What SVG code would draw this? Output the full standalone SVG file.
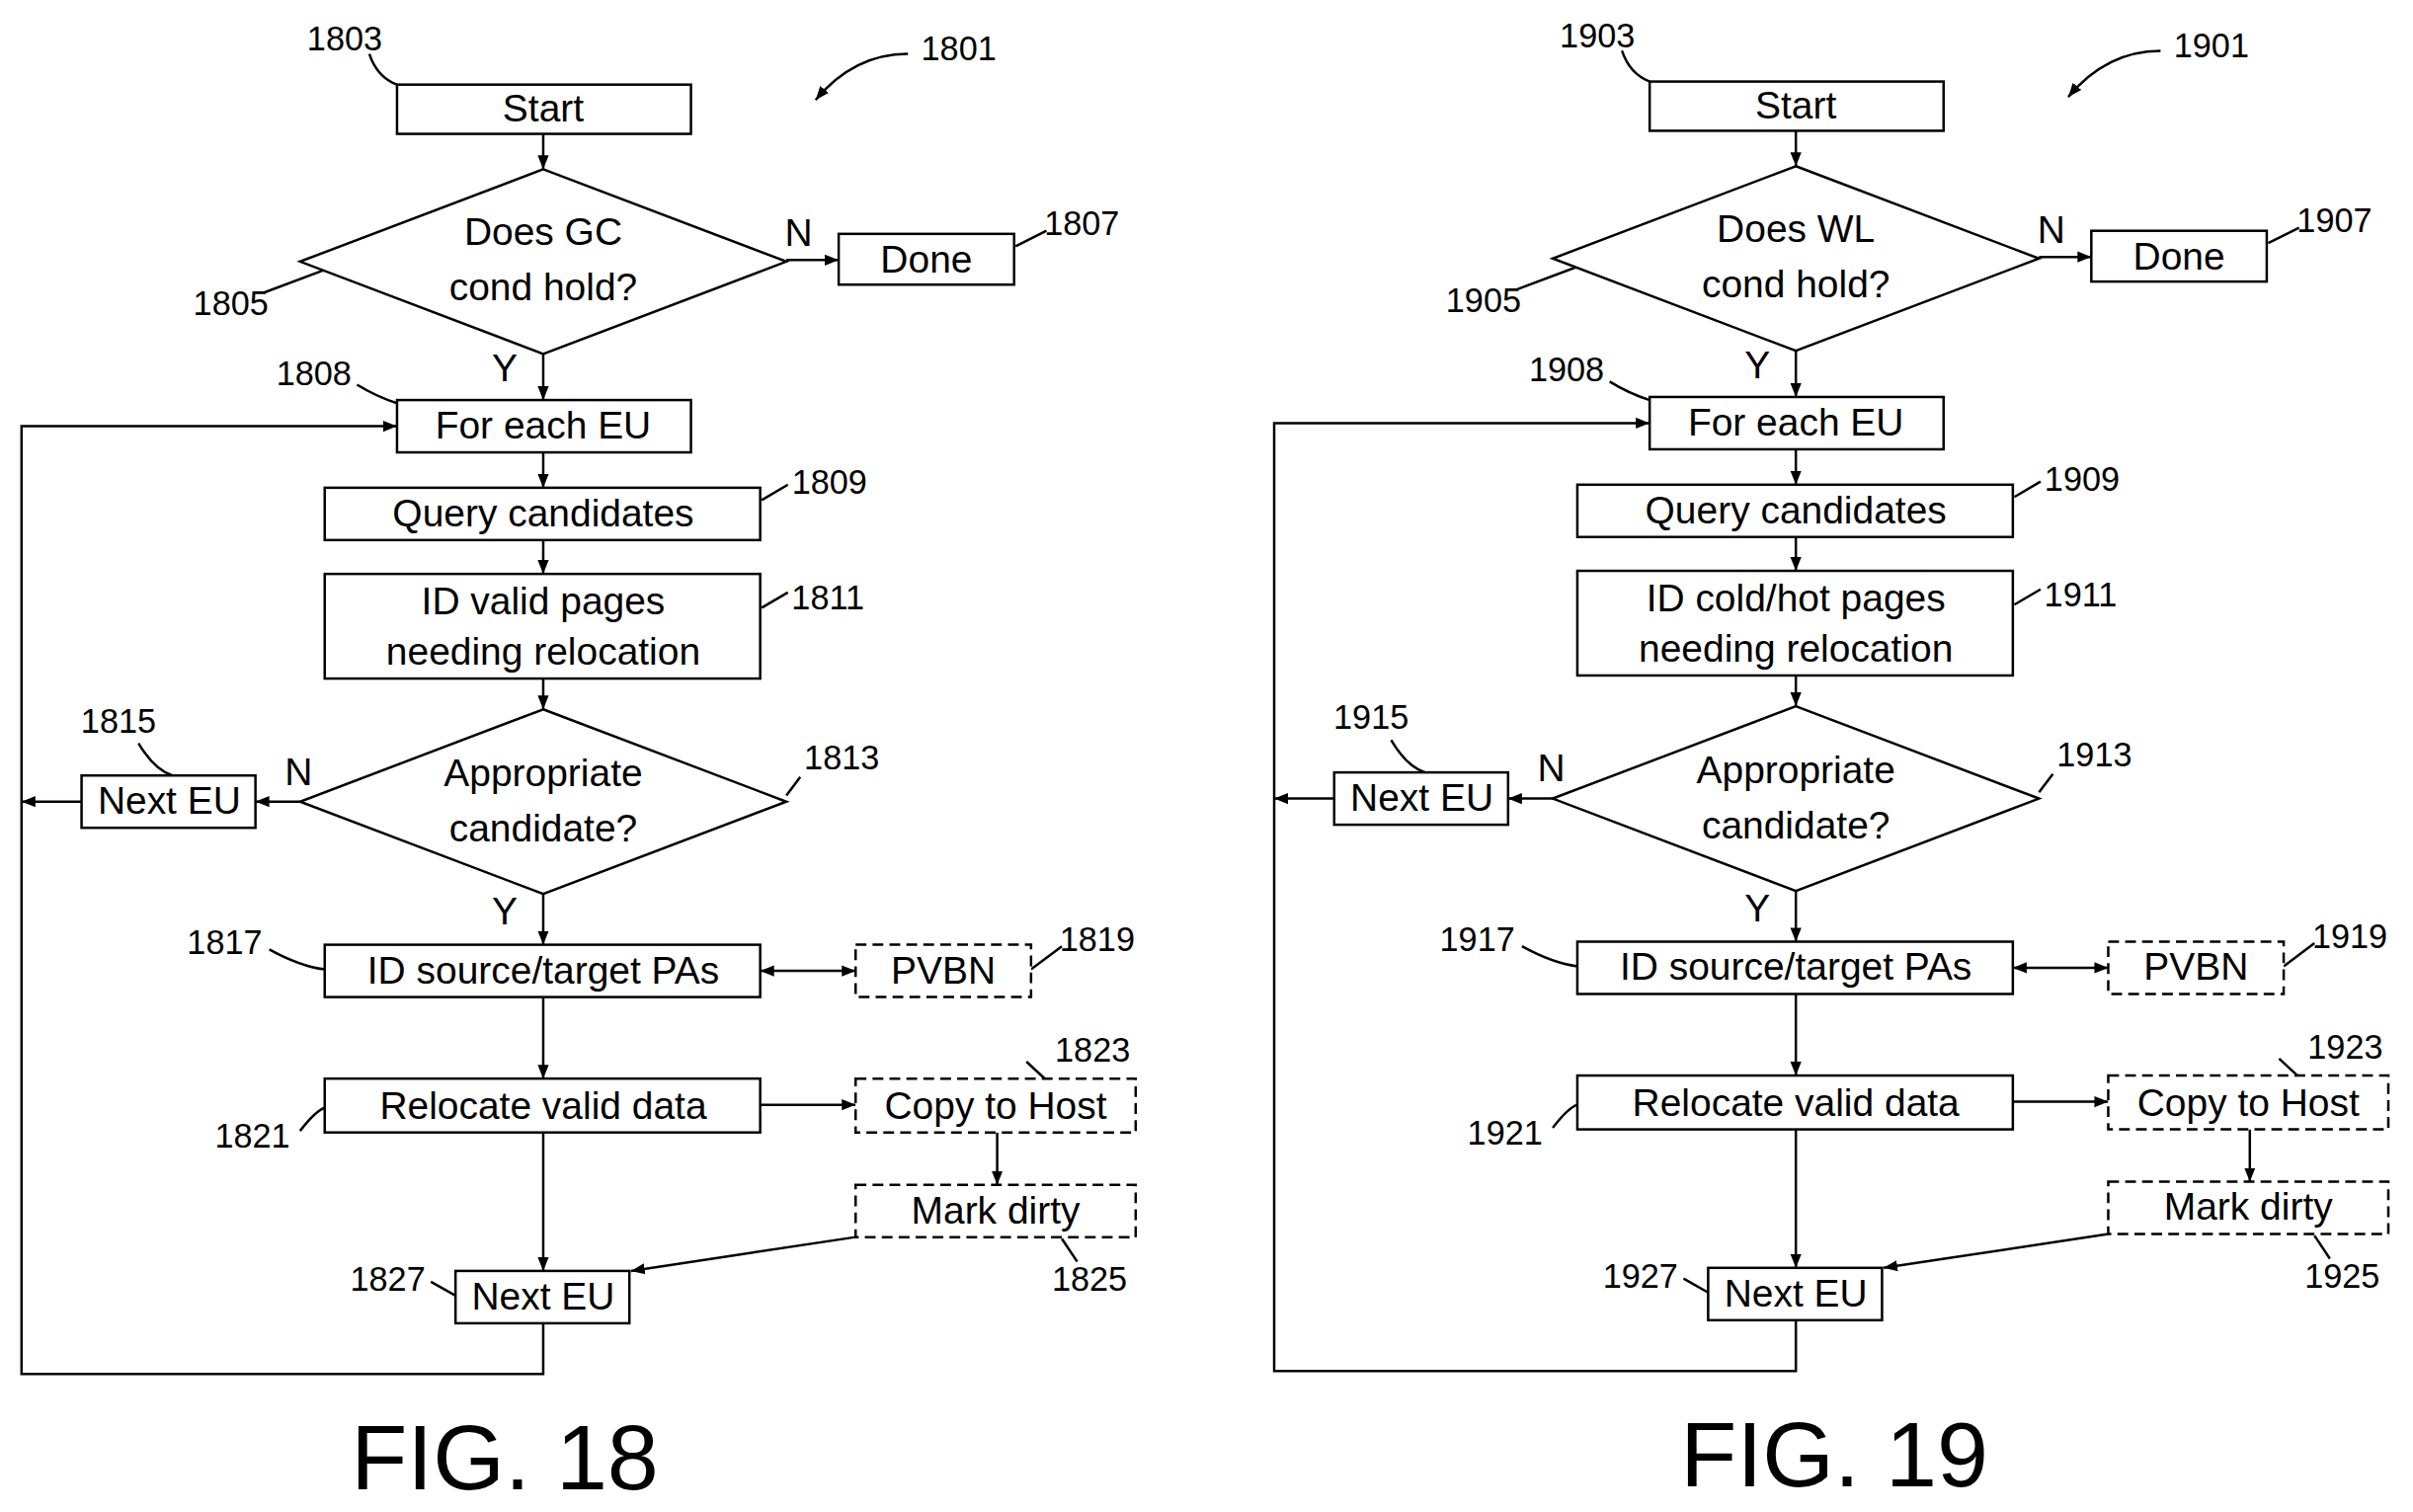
<svg xmlns="http://www.w3.org/2000/svg" width="2443" height="1531" viewBox="0 0 2443 1531">
<style>
.b{fill:#fff;stroke:#000;stroke-width:1.6}
.d{fill:#fff;stroke:#000;stroke-width:1.6;stroke-dasharray:7 4}
.t{font-family:"Liberation Sans",Arial,sans-serif;font-size:25px;text-anchor:middle;fill:#000}
.n{font-family:"Liberation Sans",Arial,sans-serif;font-size:22px;text-anchor:middle;fill:#000}
.f{font-family:"Liberation Sans",Arial,sans-serif;font-size:60px;text-anchor:middle;fill:#000}
.c{fill:none;stroke:#000;stroke-width:1.6}
.a{fill:none;stroke:#000;stroke-width:1.6;marker-end:url(#ah)}
</style>
<defs>
<marker id="ah" viewBox="0 0 10 10" refX="10" refY="5" markerWidth="9" markerHeight="9" markerUnits="userSpaceOnUse" orient="auto"><path d="M0,1 L10,5 L0,9 z" fill="#000"/></marker>
<marker id="as" viewBox="0 0 10 10" refX="0" refY="5" markerWidth="9" markerHeight="9" markerUnits="userSpaceOnUse" orient="auto"><path d="M10,1 L0,5 L10,9 z" fill="#000"/></marker>
</defs>
<rect width="2443" height="1531" fill="#fff"/>
<g transform="scale(1.558)">
<g id="fig18">
<g id="connectors18">
<path class="a" d="M353,87V110"/>
<path class="a" d="M511,169H545"/>
<path class="a" d="M353,230V260"/>
<path class="a" d="M353,294V317"/>
<path class="a" d="M353,351V373"/>
<path class="a" d="M353,441V461"/>
<path class="a" d="M195,521H166"/>
<path class="a" d="M53,521H14"/>
<path class="a" d="M353,581V614"/>
<path class="a" d="M494,631H556" style="marker-start:url(#as)"/>
<path class="a" d="M353,648V701"/>
<path class="a" d="M494,718H556"/>
<path class="a" d="M648,736V770"/>
<path class="a" d="M556,804L410,826"/>
<path class="a" d="M353,736V826"/>
<path class="a" d="M353,860V893H14V277H258"/>
<path class="c" d="M240,35Q245,50 258,55"/>
<path class="a" d="M590,35Q555,35 530,65"/>
<path class="c" d="M660,160L680,150"/>
<path class="c" d="M172,190L212,175"/>
<path class="c" d="M232,250Q245,258 258,262"/>
<path class="c" d="M495,325L512,315"/>
<path class="c" d="M495,395L512,385"/>
<path class="c" d="M511,517L520,505"/>
<path class="c" d="M90,483Q100,500 112,504"/>
<path class="c" d="M175,617Q195,628 211,630"/>
<path class="c" d="M670,630L690,615"/>
<path class="c" d="M195,735Q205,722 211,720"/>
<path class="c" d="M685,690L698,702" transform="translate(-18,0)"/>
<path class="c" d="M690,805L700,820"/>
<path class="c" d="M280,833L296,842"/>
</g>
<g id="n1803"><rect class="b" x="258" y="55" width="191" height="32"/><text class="t" x="353" y="79">Start</text></g>
<g id="n1805"><path class="b" d="M353,110L511,170L353,230L195,170z"/><text class="t" x="353" y="159">Does GC</text><text class="t" x="353" y="195">cond hold?</text></g>
<g id="n1807"><rect class="b" x="545" y="152" width="114" height="33"/><text class="t" x="602" y="177">Done</text></g>
<g id="n1808"><rect class="b" x="258" y="260" width="191" height="34"/><text class="t" x="353" y="285">For each EU</text></g>
<g id="n1809"><rect class="b" x="211" y="317" width="283" height="34"/><text class="t" x="353" y="342">Query candidates</text></g>
<g id="n1811"><rect class="b" x="211" y="373" width="283" height="68"/><text class="t" x="353" y="399">ID valid pages</text><text class="t" x="353" y="432">needing relocation</text></g>
<g id="n1813"><path class="b" d="M353,461L511,521L353,581L195,521z"/><text class="t" x="353" y="511">Appropriate</text><text class="t" x="353" y="547">candidate?</text></g>
<g id="n1815"><rect class="b" x="53" y="504" width="113" height="34"/><text class="t" x="110" y="529">Next EU</text></g>
<g id="n1817"><rect class="b" x="211" y="614" width="283" height="34"/><text class="t" x="353" y="639">ID source/target PAs</text></g>
<g id="n1819"><rect class="d" x="556" y="614" width="114" height="34"/><text class="t" x="613" y="639">PVBN</text></g>
<g id="n1821"><rect class="b" x="211" y="701" width="283" height="35"/><text class="t" x="353" y="727">Relocate valid data</text></g>
<g id="n1823"><rect class="d" x="556" y="701" width="182" height="35"/><text class="t" x="647" y="727">Copy to Host</text></g>
<g id="n1825"><rect class="d" x="556" y="770" width="182" height="34"/><text class="t" x="647" y="795">Mark dirty</text></g>
<g id="n1827"><rect class="b" x="296" y="826" width="113" height="34"/><text class="t" x="353" y="851">Next EU</text></g>
<g id="labels18">
<text class="n" x="224" y="33">1803</text><text class="n" x="623" y="39">1801</text>
<text class="n" x="703" y="153">1807</text><text class="n" x="150" y="205">1805</text>
<text class="t" x="519" y="160">N</text><text class="t" x="328" y="248">Y</text>
<text class="n" x="204" y="250">1808</text><text class="n" x="539" y="321">1809</text>
<text class="n" x="538" y="396">1811</text><text class="n" x="547" y="500">1813</text>
<text class="t" x="194" y="510">N</text><text class="n" x="77" y="476">1815</text>
<text class="t" x="328" y="601">Y</text><text class="n" x="146" y="620">1817</text>
<text class="n" x="713" y="618">1819</text><text class="n" x="164" y="746">1821</text>
<text class="n" x="710" y="690">1823</text><text class="n" x="708" y="839">1825</text>
<text class="n" x="252" y="839">1827</text>
<text class="f" x="328" y="968">FIG. 18</text>
</g>
</g>
<g id="fig19" transform="translate(814,-2)">
<g id="connectors19">
<path class="a" d="M353,87V110"/>
<path class="a" d="M511,169H545"/>
<path class="a" d="M353,230V260"/>
<path class="a" d="M353,294V317"/>
<path class="a" d="M353,351V373"/>
<path class="a" d="M353,441V461"/>
<path class="a" d="M195,521H166"/>
<path class="a" d="M53,521H14"/>
<path class="a" d="M353,581V614"/>
<path class="a" d="M494,631H556" style="marker-start:url(#as)"/>
<path class="a" d="M353,648V701"/>
<path class="a" d="M494,718H556"/>
<path class="a" d="M648,736V770"/>
<path class="a" d="M556,804L410,826"/>
<path class="a" d="M353,736V826"/>
<path class="a" d="M353,860V893H14V277H258"/>
<path class="c" d="M240,35Q245,50 258,55"/>
<path class="a" d="M590,35Q555,35 530,65"/>
<path class="c" d="M660,160L680,150"/>
<path class="c" d="M172,190L212,175"/>
<path class="c" d="M232,250Q245,258 258,262"/>
<path class="c" d="M495,325L512,315"/>
<path class="c" d="M495,395L512,385"/>
<path class="c" d="M511,517L520,505"/>
<path class="c" d="M90,483Q100,500 112,504"/>
<path class="c" d="M175,617Q195,628 211,630"/>
<path class="c" d="M670,630L690,615"/>
<path class="c" d="M195,735Q205,722 211,720"/>
<path class="c" d="M667,690L680,702"/>
<path class="c" d="M690,805L700,820"/>
<path class="c" d="M280,833L296,842"/>
</g>
<g id="n1903"><rect class="b" x="258" y="55" width="191" height="32"/><text class="t" x="353" y="79">Start</text></g>
<g id="n1905"><path class="b" d="M353,110L511,170L353,230L195,170z"/><text class="t" x="353" y="159">Does WL</text><text class="t" x="353" y="195">cond hold?</text></g>
<g id="n1907"><rect class="b" x="545" y="152" width="114" height="33"/><text class="t" x="602" y="177">Done</text></g>
<g id="n1908"><rect class="b" x="258" y="260" width="191" height="34"/><text class="t" x="353" y="285">For each EU</text></g>
<g id="n1909"><rect class="b" x="211" y="317" width="283" height="34"/><text class="t" x="353" y="342">Query candidates</text></g>
<g id="n1911"><rect class="b" x="211" y="373" width="283" height="68"/><text class="t" x="353" y="399">ID cold/hot pages</text><text class="t" x="353" y="432">needing relocation</text></g>
<g id="n1913"><path class="b" d="M353,461L511,521L353,581L195,521z"/><text class="t" x="353" y="511">Appropriate</text><text class="t" x="353" y="547">candidate?</text></g>
<g id="n1915"><rect class="b" x="53" y="504" width="113" height="34"/><text class="t" x="110" y="529">Next EU</text></g>
<g id="n1917"><rect class="b" x="211" y="614" width="283" height="34"/><text class="t" x="353" y="639">ID source/target PAs</text></g>
<g id="n1919"><rect class="d" x="556" y="614" width="114" height="34"/><text class="t" x="613" y="639">PVBN</text></g>
<g id="n1921"><rect class="b" x="211" y="701" width="283" height="35"/><text class="t" x="353" y="727">Relocate valid data</text></g>
<g id="n1923"><rect class="d" x="556" y="701" width="182" height="35"/><text class="t" x="647" y="727">Copy to Host</text></g>
<g id="n1925"><rect class="d" x="556" y="770" width="182" height="34"/><text class="t" x="647" y="795">Mark dirty</text></g>
<g id="n1927"><rect class="b" x="296" y="826" width="113" height="34"/><text class="t" x="353" y="851">Next EU</text></g>
<g id="labels19">
<text class="n" x="224" y="33">1903</text><text class="n" x="623" y="39">1901</text>
<text class="n" x="703" y="153">1907</text><text class="n" x="150" y="205">1905</text>
<text class="t" x="519" y="160">N</text><text class="t" x="328" y="248">Y</text>
<text class="n" x="204" y="250">1908</text><text class="n" x="539" y="321">1909</text>
<text class="n" x="538" y="396">1911</text><text class="n" x="547" y="500">1913</text>
<text class="t" x="194" y="510">N</text><text class="n" x="77" y="476">1915</text>
<text class="t" x="328" y="601">Y</text><text class="n" x="146" y="620">1917</text>
<text class="n" x="713" y="618">1919</text><text class="n" x="164" y="746">1921</text>
<text class="n" x="710" y="690">1923</text><text class="n" x="708" y="839">1925</text>
<text class="n" x="252" y="839">1927</text>
<text class="f" x="378" y="968">FIG. 19</text>
</g>
</g>
</g>
</svg>
